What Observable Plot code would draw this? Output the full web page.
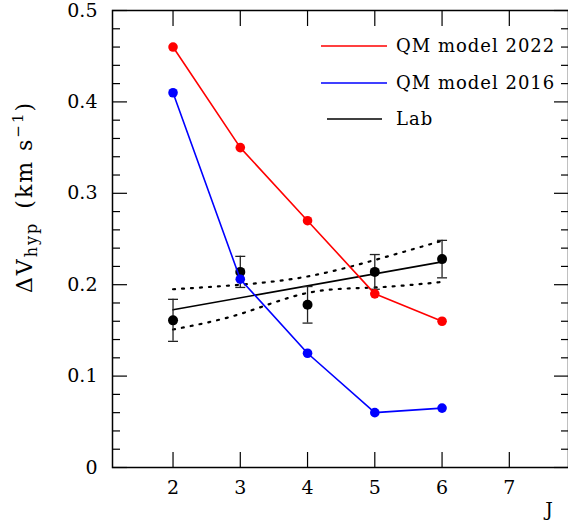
<!DOCTYPE html>
<html><head><meta charset="utf-8">
<script src="https://cdn.jsdelivr.net/npm/d3@7"></script>
<script src="https://cdn.jsdelivr.net/npm/@observablehq/plot@0.6"></script>
<style>body{margin:0;background:#fff} svg{display:block}</style>
</head><body><div id="chart"></div>
<script>
const J = [2, 3, 4, 5, 6];
const qm2022 = [0.46, 0.35, 0.27, 0.19, 0.16];
const qm2016 = [0.41, 0.206, 0.125, 0.06, 0.065];
const labV = [0.161, 0.214, 0.178, 0.214, 0.228];
const labErr = [0.023, 0.017, 0.020, 0.019, 0.0205];
const fitJ = [2, 6];
const fitV = [0.1725, 0.2250];
const bandUpper = [0.195, 0.200, 0.209, 0.227, 0.248];
const bandLower = [0.151, 0.168, 0.191, 0.197, 0.203];
const legendLabels = ["QM model 2022", "QM model 2016", "Lab"];
const legendColors = ["#ff0000", "#0000ff", "#000000"];
const xTicks = [2, 3, 4, 5, 6, 7];
const yMajor = [0, 0.1, 0.2, 0.3, 0.4, 0.5];
const yMinor = d3.range(0, 26).filter(i => i % 5 !== 0).map(i => i * 0.02);

const red = J.map((j, i) => ({J: j, v: qm2022[i]}));
const blue = J.map((j, i) => ({J: j, v: qm2016[i]}));
const lab = J.map((j, i) => ({J: j, v: labV[i], e: labErr[i]}));
const fit = fitJ.map((j, i) => ({J: j, v: fitV[i]}));
const up = J.map((j, i) => ({J: j, v: bandUpper[i]}));
const lo = J.map((j, i) => ({J: j, v: bandLower[i]}));

const FONT = "DejaVu Serif";
const capSymbol = {draw(ctx, size) { const r = Math.sqrt(size / Math.PI); ctx.moveTo(-r, 0); ctx.lineTo(r, 0); }};

const chart = Plot.plot({
  width: 568, height: 523,
  marginLeft: 112, marginRight: 0, marginTop: 10, marginBottom: 56,
  style: {fontFamily: FONT, fontSize: "19px", background: "#fff", color: "#000"},
  x: {domain: [1.1, 7.88]},
  y: {domain: [0, 0.5]},
  marks: [
    Plot.axisY({anchor: "left", ticks: yMajor, tickSize: 15, dx: 15, fill: "none", label: null, strokeWidth: 1.2}),
    Plot.axisY({anchor: "left", ticks: yMinor, tickSize: 8, dx: 8, fill: "none", label: null, strokeWidth: 1.2}),
    Plot.axisY({anchor: "right", ticks: yMajor, tickSize: 15, dx: -15, fill: "none", label: null, strokeWidth: 1.2}),
    Plot.axisY({anchor: "right", ticks: yMinor, tickSize: 8, dx: -8, fill: "none", label: null, strokeWidth: 1.2}),
    Plot.axisY({anchor: "left", ticks: yMajor, tickSize: 0, tickPadding: 15, label: null, fontSize: 19,
      tickFormat: d => d === 0 ? "0" : d3.format(".1f")(d), style: "letter-spacing:1.5px"}),
    Plot.axisX({anchor: "bottom", ticks: xTicks, tickSize: 15, dy: -15, fill: "none", label: null, strokeWidth: 1.2}),
    Plot.axisX({anchor: "top", ticks: xTicks, tickSize: 15, dy: 15, fill: "none", label: null, strokeWidth: 1.2}),
    Plot.axisX({anchor: "bottom", ticks: xTicks, tickSize: 0, tickPadding: 13, label: null, fontSize: 19, tickFormat: d => String(d)}),
    Plot.frame({stroke: "#000", strokeWidth: 1.5}),
    Plot.line(up, {x: "J", y: "v", curve: "natural", stroke: "#000", strokeWidth: 2.2, strokeDasharray: "2,7"}),
    Plot.line(lo, {x: "J", y: "v", curve: "natural", stroke: "#000", strokeWidth: 2.2, strokeDasharray: "2,7"}),
    Plot.line(fit, {x: "J", y: "v", stroke: "#000", strokeWidth: 1.6}),
    Plot.ruleX(lab, {x: "J", y1: d => d.v - d.e, y2: d => d.v + d.e, stroke: "#222", strokeWidth: 1.3}),
    Plot.dot(lab, {x: "J", y: d => d.v + d.e, symbol: capSymbol, r: 5, stroke: "#222", strokeWidth: 1.3}),
    Plot.dot(lab, {x: "J", y: d => d.v - d.e, symbol: capSymbol, r: 5, stroke: "#222", strokeWidth: 1.3}),
    Plot.dot(lab, {x: "J", y: "v", r: 5, fill: "#000"}),
    Plot.line(red, {x: "J", y: "v", stroke: "#ff0000", strokeWidth: 1.6}),
    Plot.dot(red, {x: "J", y: "v", r: 4.8, fill: "#ff0000"}),
    Plot.line(blue, {x: "J", y: "v", stroke: "#0000ff", strokeWidth: 1.6}),
    Plot.dot(blue, {x: "J", y: "v", r: 4.8, fill: "#0000ff"})
  ]
});

const svg = d3.select(chart);
const legY = [46, 83, 119];
const legX1 = [321, 321, 327], legX2 = [387, 387, 382];
legendLabels.forEach((lab, i) => {
  svg.append("line").attr("x1", legX1[i]).attr("x2", legX2[i]).attr("y1", legY[i]).attr("y2", legY[i])
    .attr("stroke", legendColors[i]).attr("stroke-width", 1.6);
  svg.append("text").attr("x", 396).attr("y", legY[i]).attr("dy", "0.36em").attr("text-anchor", "start")
    .attr("font-family", FONT).attr("font-size", 18).attr("letter-spacing", "1px").attr("fill", "#000").text(lab);
});
const yl = svg.append("text").attr("transform", "translate(32,197) rotate(-90)")
  .attr("text-anchor", "middle").attr("font-family", FONT).attr("font-size", 22).attr("letter-spacing", "2px").attr("fill", "#000");
yl.append("tspan").text("ΔV");
yl.append("tspan").attr("font-size", 16).attr("dy", 5).text("hyp");
yl.append("tspan").attr("dy", -5).text("\u2002(km s");
yl.append("tspan").attr("font-size", 15).attr("dy", -9).text("−1");
yl.append("tspan").attr("dy", 9).text(")");
svg.append("text").attr("x", 549).attr("y", 509).attr("dy", "0.36em").attr("text-anchor", "middle")
  .attr("font-family", FONT).attr("font-size", 19).attr("fill", "#000").text("J");

document.getElementById("chart").appendChild(chart);
</script>
</body></html>
